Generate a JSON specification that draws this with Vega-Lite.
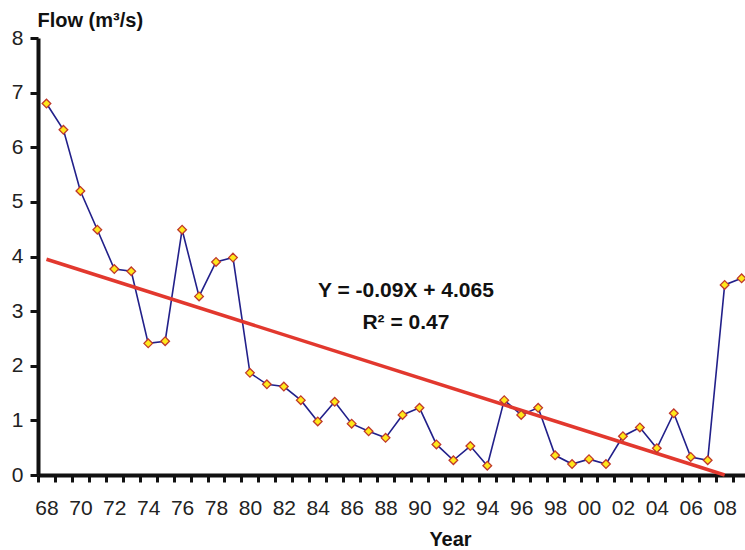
{
  "$schema": "https://vega.github.io/schema/vega-lite/v6.json",
  "width": 707,
  "height": 437,
  "autosize": "none",
  "padding": {"left": 38, "top": 38, "right": 0, "bottom": 75},
  "background": "white",
  "config": {"view": {"stroke": null}, "font": "Liberation Sans"},
  "datasets": {
    "flow": [
      {"year": 1968, "flow": 6.8}, {"year": 1969, "flow": 6.32}, {"year": 1970, "flow": 5.2},
      {"year": 1971, "flow": 4.49}, {"year": 1972, "flow": 3.77}, {"year": 1973, "flow": 3.73},
      {"year": 1974, "flow": 2.41}, {"year": 1975, "flow": 2.45}, {"year": 1976, "flow": 4.49},
      {"year": 1977, "flow": 3.27}, {"year": 1978, "flow": 3.9}, {"year": 1979, "flow": 3.98},
      {"year": 1980, "flow": 1.87}, {"year": 1981, "flow": 1.66}, {"year": 1982, "flow": 1.62},
      {"year": 1983, "flow": 1.37}, {"year": 1984, "flow": 0.98}, {"year": 1985, "flow": 1.34},
      {"year": 1986, "flow": 0.94}, {"year": 1987, "flow": 0.8}, {"year": 1988, "flow": 0.68},
      {"year": 1989, "flow": 1.1}, {"year": 1990, "flow": 1.23}, {"year": 1991, "flow": 0.56},
      {"year": 1992, "flow": 0.27}, {"year": 1993, "flow": 0.53}, {"year": 1994, "flow": 0.17},
      {"year": 1995, "flow": 1.37}, {"year": 1996, "flow": 1.1}, {"year": 1997, "flow": 1.23},
      {"year": 1998, "flow": 0.36}, {"year": 1999, "flow": 0.2}, {"year": 2000, "flow": 0.29},
      {"year": 2001, "flow": 0.2}, {"year": 2002, "flow": 0.71}, {"year": 2003, "flow": 0.87},
      {"year": 2004, "flow": 0.49}, {"year": 2005, "flow": 1.13}, {"year": 2006, "flow": 0.33},
      {"year": 2007, "flow": 0.27}, {"year": 2008, "flow": 3.48}, {"year": 2009, "flow": 3.6}
    ],
    "trend": [
      {"year": 1968, "flow": 3.95},
      {"year": 2008, "flow": 0}
    ],
    "equation": [
      {"year": 1989.2, "flow": 3.26, "label": "Y = -0.09X + 4.065"},
      {"year": 1989.2, "flow": 2.67, "label": "R² = 0.47"}
    ]
  },
  "layer": [
    {
      "data": {"name": "flow"},
      "mark": {"type": "line", "color": "#22208a", "strokeWidth": 1.6},
      "encoding": {
        "x": {
          "field": "year", "type": "quantitative",
          "scale": {"domain": [1967.5, 2009.2], "nice": false, "zero": false},
          "axis": {
            "orient": "bottom",
            "values": [1967.5, 1968.5, 1969.5, 1970.5, 1971.5, 1972.5, 1973.5, 1974.5, 1975.5, 1976.5, 1977.5, 1978.5, 1979.5, 1980.5, 1981.5, 1982.5, 1983.5, 1984.5, 1985.5, 1986.5, 1987.5, 1988.5, 1989.5, 1990.5, 1991.5, 1992.5, 1993.5, 1994.5, 1995.5, 1996.5, 1997.5, 1998.5, 1999.5, 2000.5, 2001.5, 2002.5, 2003.5, 2004.5, 2005.5, 2006.5, 2007.5, 2008.5],
            "labels": false, "title": null, "grid": false,
            "domain": true, "domainWidth": 4, "domainColor": "#111111",
            "ticks": true, "tickSize": 7, "tickWidth": 3, "tickColor": "#111111"
          }
        },
        "y": {
          "field": "flow", "type": "quantitative",
          "scale": {"domain": [0, 8], "nice": false},
          "title": "Flow (m³/s)",
          "axis": {
            "values": [0, 1, 2, 3, 4, 5, 6, 7, 8],
            "grid": false,
            "domain": true, "domainWidth": 4, "domainColor": "#111111",
            "ticks": true, "tickSize": 8, "tickWidth": 3, "tickColor": "#111111",
            "labelFont": "Liberation Sans", "labelFontSize": 21, "labelColor": "#222222", "labelPadding": 7,
            "titleAngle": 0, "titleX": -1, "titleY": -12, "titleAlign": "left", "titleBaseline": "alphabetic",
            "titleFont": "Liberation Sans", "titleFontSize": 20, "titleFontWeight": "bold", "titleColor": "#111111"
          }
        }
      }
    },
    {
      "data": {"name": "trend"},
      "mark": {"type": "line", "color": "#e2382e", "strokeWidth": 3.5},
      "encoding": {
        "x": {"field": "year", "type": "quantitative", "axis": null},
        "y": {"field": "flow", "type": "quantitative", "title": "Flow (m³/s)"}
      }
    },
    {
      "data": {"name": "flow"},
      "mark": {"type": "point", "shape": "diamond", "size": 75, "filled": true, "fill": "#ffe81a", "stroke": "#c0392b", "strokeWidth": 1.3, "opacity": 1},
      "encoding": {
        "x": {
          "field": "year", "type": "quantitative",
          "axis": {
            "orient": "bottom",
            "values": [1968, 1970, 1972, 1974, 1976, 1978, 1980, 1982, 1984, 1986, 1988, 1990, 1992, 1994, 1996, 1998, 2000, 2002, 2004, 2006, 2008],
            "labelExpr": "format(datum.value % 100, '02d')",
            "grid": false, "domain": false, "ticks": false,
            "labelFont": "Liberation Sans", "labelFontSize": 21, "labelColor": "#222222", "labelPadding": 22,
            "labelOverlap": false,
            "title": "Year", "titleX": 412, "titleY": 70, "titleAlign": "center", "titleBaseline": "alphabetic",
            "titleFont": "Liberation Sans", "titleFontSize": 20, "titleFontWeight": "bold", "titleColor": "#111111"
          }
        },
        "y": {"field": "flow", "type": "quantitative", "title": "Flow (m³/s)"}
      }
    },
    {
      "data": {"name": "equation"},
      "mark": {"type": "text", "font": "Liberation Sans", "fontSize": 21, "fontWeight": "bold", "color": "#111111", "align": "center", "baseline": "alphabetic"},
      "encoding": {
        "x": {"field": "year", "type": "quantitative", "axis": null},
        "y": {"field": "flow", "type": "quantitative", "title": "Flow (m³/s)"},
        "text": {"field": "label"}
      }
    }
  ],
  "resolve": {"axis": {"x": "independent"}}
}
